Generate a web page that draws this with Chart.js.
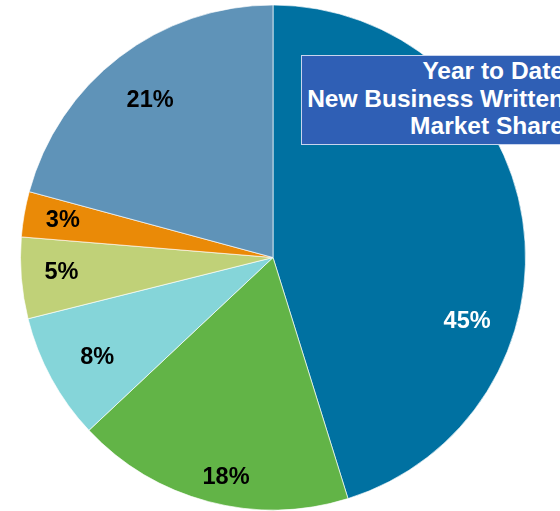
<!DOCTYPE html>
<html>
<head>
<meta charset="utf-8">
<script src="https://cdn.jsdelivr.net/npm/chart.js@4/dist/chart.umd.min.js"></script>
<style>
  html, body { margin: 0; padding: 0; background: #fff; overflow: hidden; }
  #wrap { position: relative; width: 560px; height: 511px; overflow: hidden; }
  #title_box {
    position: absolute; left: 301px; top: 55px; width: 262px; height: 87px;
    background: #2F5FB5; border: 1px solid #c9d5ee;
    padding: 1px 34px 0 0; text-align: right; color: #fff;
    font: bold 24.5px "Liberation Sans", Arial, sans-serif; line-height: 27.5px;
    white-space: nowrap;
  }
</style>
</head>
<body>
<div id="wrap">
  <canvas id="market_share" width="560" height="511"></canvas>
  <div id="title_box">Year to Date<br>New Business Written<br>Market Share</div>
</div>
<script>
// values (labels show them rounded)
let shareLabels = ["Company A", "Company B", "Company C", "Company D", "Company E", "Others"];
let shareValues = [45.2, 17.8, 8.1, 5.2, 2.9, 20.8];
let sliceColors = ["#0071A1", "#62B447", "#85D5D9", "#C0D178", "#EA8A07", "#5F93B8"];

// label placement: fraction of radius, angle shift in degrees, text colour
let labelRadius = [0.81, 0.89, 0.80, 0.84, 0.845, 0.79];
let labelShift = [27, -2.7, -0.9, 0.7, 0, -0.6];
let labelColors = ["#ffffff", "#000000", "#000000", "#000000", "#000000", "#000000"];

const pctLabels = {
    id: "pctLabels",
    afterDatasetsDraw(chart) {
        let ctx = chart.ctx;
        let arcs = chart.getDatasetMeta(0).data;
        ctx.save();
        ctx.font = "bold 23.5px 'Liberation Sans', Arial, sans-serif";
        ctx.textAlign = "center";
        ctx.textBaseline = "middle";
        arcs.forEach(function (arc, i) {
            let mid = (arc.startAngle + arc.endAngle) / 2 + labelShift[i] * Math.PI / 180;
            let r = arc.outerRadius * labelRadius[i];
            ctx.fillStyle = labelColors[i];
            ctx.fillText(Math.round(shareValues[i]) + "%", arc.x + Math.cos(mid) * r, arc.y + Math.sin(mid) * r);
        });
        ctx.restore();
    }
};

new Chart("market_share", {
    type: "pie",
    data: {
        labels: shareLabels,
        datasets: [{
            data: shareValues,
            backgroundColor: sliceColors,
            borderColor: "rgba(255,255,255,0.65)",
            borderWidth: 1
        }]
    },
    options: {
        responsive: false,
        animation: false,
        layout: { padding: { left: 20, right: 34, top: 4.5, bottom: 0.5 } },
        plugins: {
            legend: { display: false },
            tooltip: { enabled: false }
        }
    },
    plugins: [pctLabels]
});
</script>
</body>
</html>
